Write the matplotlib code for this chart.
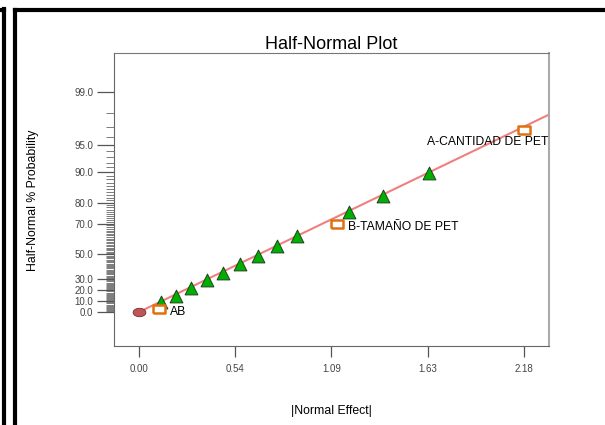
import numpy as np
import matplotlib
matplotlib.use('Agg')
import matplotlib.pyplot as plt
from matplotlib.lines import Line2D
from statistics import NormalDist

plt.rcParams['font.family'] = ['Liberation Sans', 'DejaVu Sans']

# half-normal quantiles
tri_x = [0.123, 0.210, 0.296, 0.383, 0.477, 0.572, 0.676, 0.783, 0.896, 1.191, 1.383, 1.644]
tri_z = [0.114, 0.191, 0.278, 0.371, 0.460, 0.559, 0.659, 0.769, 0.893, 1.174, 1.362, 1.631]
sq_x = [0.115, 1.123, 2.180]
sq_z = [0.035, 1.030, 2.131]
sq_labels = ['AB', 'B-TAMAÑO DE PET', 'A-CANTIDAD DE PET']
err_x = [0.0]
err_z = [0.0]
line_x = [0.0, 2.33]
line_z = [0.0, 2.32]

x_ticks = [0.00, 0.545, 1.09, 1.635, 2.18]
x_ticklabels = ['0.00', '0.54', '1.09', '1.63', '2.18']
y_probs = [0, 10, 20, 30, 50, 70, 80, 90, 95, 99]


def hn(p):
    # half-normal quantile for a percent
    return NormalDist().inv_cdf(0.5 + p / 200.0)


# wide marker shapes
rect = [(-1, -0.72), (1, -0.72), (1, 0.72), (-1, 0.72), (-1, -0.72)]
t = np.linspace(0, 2 * np.pi, 40)
ellipse = list(zip(np.cos(t), 0.66 * np.sin(t)))

fig = plt.figure(figsize=(6.05, 4.25), dpi=100)

# outer frames
fig.add_artist(Line2D([3.5 / 605, 3.5 / 605], [0, 1 - 9 / 425], color='black', lw=3))
fig.add_artist(Line2D([0, 3.5 / 605], [1 - 9.5 / 425, 1 - 9.5 / 425], color='black', lw=3))
fig.add_artist(Line2D([14.5 / 605, 14.5 / 605], [0, 1 - 9.5 / 425], color='black', lw=3))
fig.add_artist(Line2D([14.5 / 605, 1], [1 - 9.5 / 425, 1 - 9.5 / 425], color='black', lw=3))

ax = fig.add_axes([114 / 605, 1 - 346 / 425, 435 / 605, 293 / 425])

ax.plot(line_x, line_z, color='#f08080', lw=1.5, zorder=2)
ax.scatter(err_x, err_z, marker=ellipse, s=85, c='#c05555', edgecolors='#703030',
           linewidths=0.6, zorder=3)
ax.scatter(tri_x, tri_z, marker='^', s=85, c='#00b000', edgecolors='#204020',
           linewidths=0.7, zorder=3)
ax.scatter(sq_x, sq_z, marker=rect, s=70, c='white', edgecolors='#e07010',
           linewidths=1.8, zorder=3)

ax.text(sq_x[0] + 0.06, sq_z[0] - 0.04, sq_labels[0], fontsize=8.7, va='center', ha='left')
ax.text(sq_x[1] + 0.06, sq_z[1] - 0.04, sq_labels[1], fontsize=8.7, va='center', ha='left')
ax.text(sq_x[2] + 0.14, sq_z[2] - 0.14, sq_labels[2], fontsize=8.7, va='center', ha='right')

ax.set_xlim(-0.1416, 2.3217)
ax.set_ylim(-0.398, 3.033)

ax.set_xticks(x_ticks)
ax.set_xticklabels(x_ticklabels)
ax.set_yticks([hn(p) for p in y_probs])
ax.set_yticklabels(['%.1f' % p for p in y_probs])
ax.set_yticks([hn(p) for p in range(0, 100) if p not in y_probs], minor=True)

ax.tick_params(axis='both', labelsize=7, colors='#555555', labelcolor='#444444')
ax.tick_params(axis='y', which='major', length=12, width=0.9, pad=3)
ax.tick_params(axis='y', which='minor', length=6, width=0.6, color='#666666')
ax.tick_params(axis='x', which='major', length=8, width=0.9, pad=5)

ax.spines['left'].set_color('#666666')
ax.spines['bottom'].set_color('#666666')
ax.spines['top'].set_color('#777777')
ax.spines['right'].set_color('#aaaaaa')
ax.spines['right'].set_linewidth(1.5)

ax.set_title('Half-Normal Plot', fontsize=13, pad=3)
ax.set_xlabel('|Normal Effect|', fontsize=8.8, labelpad=22)
fig.text(33 / 605, 1 - 200 / 425, 'Half-Normal % Probability', rotation=90,
         fontsize=8.8, ha='center', va='center')

fig.savefig('out.png', dpi=100)
